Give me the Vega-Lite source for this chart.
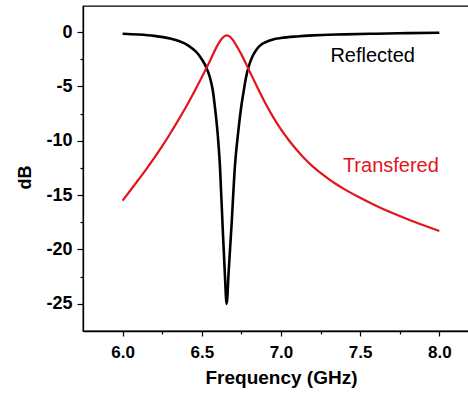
{
  "$schema": "https://vega.github.io/schema/vega-lite/v6.json",
  "width": 388,
  "height": 325,
  "autosize": {"type": "none"},
  "padding": {"left": 83, "top": 6, "right": 0, "bottom": 63},
  "background": "white",
  "config": {
    "font": "Liberation Sans",
    "view": {"stroke": "black", "strokeWidth": 1.3},
    "axis": {"grid": false, "domainColor": "black", "domainWidth": 1.3, "tickColor": "black", "tickWidth": 1.2, "labelColor": "black", "titleColor": "black", "labelFont": "Liberation Sans", "titleFont": "Liberation Sans", "labelFontWeight": "bold", "titleFontWeight": "bold"}
  },
  "datasets": {
    "curves": [
      {"f": 6.00, "db": -0.15, "s": "Reflected"},
      {"f": 6.10, "db": -0.22, "s": "Reflected"},
      {"f": 6.20, "db": -0.35, "s": "Reflected"},
      {"f": 6.30, "db": -0.6, "s": "Reflected"},
      {"f": 6.36, "db": -0.85, "s": "Reflected"},
      {"f": 6.40, "db": -1.1, "s": "Reflected"},
      {"f": 6.44, "db": -1.5, "s": "Reflected"},
      {"f": 6.47, "db": -1.9, "s": "Reflected"},
      {"f": 6.50, "db": -2.5, "s": "Reflected"},
      {"f": 6.53, "db": -3.3, "s": "Reflected"},
      {"f": 6.552, "db": -4.2, "s": "Reflected"},
      {"f": 6.57, "db": -5.4, "s": "Reflected"},
      {"f": 6.583, "db": -6.9, "s": "Reflected"},
      {"f": 6.60, "db": -9.3, "s": "Reflected"},
      {"f": 6.615, "db": -12.4, "s": "Reflected"},
      {"f": 6.632, "db": -18.0, "s": "Reflected"},
      {"f": 6.645, "db": -22.0, "s": "Reflected"},
      {"f": 6.657, "db": -25.0, "s": "Reflected"},
      {"f": 6.67, "db": -22.0, "s": "Reflected"},
      {"f": 6.689, "db": -17.5, "s": "Reflected"},
      {"f": 6.709, "db": -12.4, "s": "Reflected"},
      {"f": 6.73, "db": -9.2, "s": "Reflected"},
      {"f": 6.747, "db": -7.1, "s": "Reflected"},
      {"f": 6.765, "db": -5.4, "s": "Reflected"},
      {"f": 6.779, "db": -4.2, "s": "Reflected"},
      {"f": 6.80, "db": -3.0, "s": "Reflected"},
      {"f": 6.82, "db": -2.25, "s": "Reflected"},
      {"f": 6.846, "db": -1.6, "s": "Reflected"},
      {"f": 6.88, "db": -1.1, "s": "Reflected"},
      {"f": 6.92, "db": -0.82, "s": "Reflected"},
      {"f": 6.95, "db": -0.68, "s": "Reflected"},
      {"f": 7.00, "db": -0.55, "s": "Reflected"},
      {"f": 7.10, "db": -0.4, "s": "Reflected"},
      {"f": 7.20, "db": -0.3, "s": "Reflected"},
      {"f": 7.40, "db": -0.21, "s": "Reflected"},
      {"f": 7.60, "db": -0.15, "s": "Reflected"},
      {"f": 7.80, "db": -0.1, "s": "Reflected"},
      {"f": 8.00, "db": -0.06, "s": "Reflected"},
      {"f": 6.00, "db": -15.5, "s": "Transfered"},
      {"f": 6.05, "db": -14.55, "s": "Transfered"},
      {"f": 6.10, "db": -13.58, "s": "Transfered"},
      {"f": 6.15, "db": -12.6, "s": "Transfered"},
      {"f": 6.20, "db": -11.58, "s": "Transfered"},
      {"f": 6.25, "db": -10.5, "s": "Transfered"},
      {"f": 6.30, "db": -9.35, "s": "Transfered"},
      {"f": 6.35, "db": -8.15, "s": "Transfered"},
      {"f": 6.40, "db": -6.9, "s": "Transfered"},
      {"f": 6.45, "db": -5.55, "s": "Transfered"},
      {"f": 6.50, "db": -4.15, "s": "Transfered"},
      {"f": 6.55, "db": -2.7, "s": "Transfered"},
      {"f": 6.60, "db": -1.2, "s": "Transfered"},
      {"f": 6.63, "db": -0.55, "s": "Transfered"},
      {"f": 6.657, "db": -0.3, "s": "Transfered"},
      {"f": 6.68, "db": -0.45, "s": "Transfered"},
      {"f": 6.70, "db": -0.8, "s": "Transfered"},
      {"f": 6.75, "db": -2.05, "s": "Transfered"},
      {"f": 6.80, "db": -3.55, "s": "Transfered"},
      {"f": 6.85, "db": -5.05, "s": "Transfered"},
      {"f": 6.90, "db": -6.5, "s": "Transfered"},
      {"f": 6.95, "db": -7.8, "s": "Transfered"},
      {"f": 7.00, "db": -8.95, "s": "Transfered"},
      {"f": 7.05, "db": -9.95, "s": "Transfered"},
      {"f": 7.10, "db": -10.85, "s": "Transfered"},
      {"f": 7.15, "db": -11.65, "s": "Transfered"},
      {"f": 7.20, "db": -12.35, "s": "Transfered"},
      {"f": 7.25, "db": -12.95, "s": "Transfered"},
      {"f": 7.30, "db": -13.5, "s": "Transfered"},
      {"f": 7.35, "db": -14.0, "s": "Transfered"},
      {"f": 7.40, "db": -14.45, "s": "Transfered"},
      {"f": 7.50, "db": -15.25, "s": "Transfered"},
      {"f": 7.60, "db": -15.98, "s": "Transfered"},
      {"f": 7.70, "db": -16.63, "s": "Transfered"},
      {"f": 7.80, "db": -17.22, "s": "Transfered"},
      {"f": 7.90, "db": -17.77, "s": "Transfered"},
      {"f": 8.00, "db": -18.3, "s": "Transfered"}
    ],
    "labels": [
      {"f": 7.579, "db": -2.24, "s": "Reflected"},
      {"f": 7.694, "db": -12.36, "s": "Transfered"}
    ]
  },
  "encoding": {
    "x": {
      "field": "f", "type": "quantitative",
      "scale": {"domain": [5.75, 8.2], "nice": false, "zero": false},
      "axis": {
        "title": "Frequency (GHz)",
        "values": [6, 6.25, 6.5, 6.75, 7, 7.25, 7.5, 7.75, 8],
        "labelExpr": "(datum.value * 2) % 1 === 0 ? format(datum.value, '.1f') : ''",
        "tickSize": {"condition": {"test": "(datum.value * 2) % 1 === 0", "value": 5}, "value": 3},
        "labelFontSize": 17, "labelPadding": 8, "labelFlush": false,
        "titleFontSize": 19, "titleX": 198, "titleY": 52, "titleAlign": "center", "titleBaseline": "alphabetic", "titleAnchor": null
      }
    },
    "y": {
      "field": "db", "type": "quantitative",
      "scale": {"domain": [-27.5, 2.4], "nice": false, "zero": false},
      "axis": {
        "title": "dB",
        "values": [-25, -22.5, -20, -17.5, -15, -12.5, -10, -7.5, -5, -2.5, 0],
        "labelExpr": "datum.value % 5 === 0 ? toString(datum.value) : ''",
        "tickSize": {"condition": {"test": "datum.value % 5 === 0", "value": 6}, "value": 3},
        "labelFontSize": 18, "labelPadding": 5, "labelFlush": false,
        "titleFontSize": 18, "titleX": -58, "titleY": 171, "titleAngle": -90, "titleAlign": "center", "titleBaseline": "middle", "titleAnchor": null
      }
    },
    "color": {
      "field": "s", "type": "nominal",
      "scale": {"domain": ["Reflected", "Transfered"], "range": ["#000000", "#e3141c"]},
      "legend": null
    }
  },
  "layer": [
    {
      "data": {"name": "curves"},
      "transform": [{"filter": "datum.s === 'Reflected'"}],
      "mark": {"type": "line", "strokeWidth": 2.6, "interpolate": "monotone"}
    },
    {
      "data": {"name": "curves"},
      "transform": [{"filter": "datum.s === 'Transfered'"}],
      "mark": {"type": "line", "strokeWidth": 2.2, "interpolate": "monotone"}
    },
    {
      "data": {"name": "labels"},
      "mark": {"type": "text", "fontSize": 20, "font": "Liberation Sans", "align": "center", "baseline": "middle"},
      "encoding": {"text": {"field": "s"}}
    }
  ]
}
